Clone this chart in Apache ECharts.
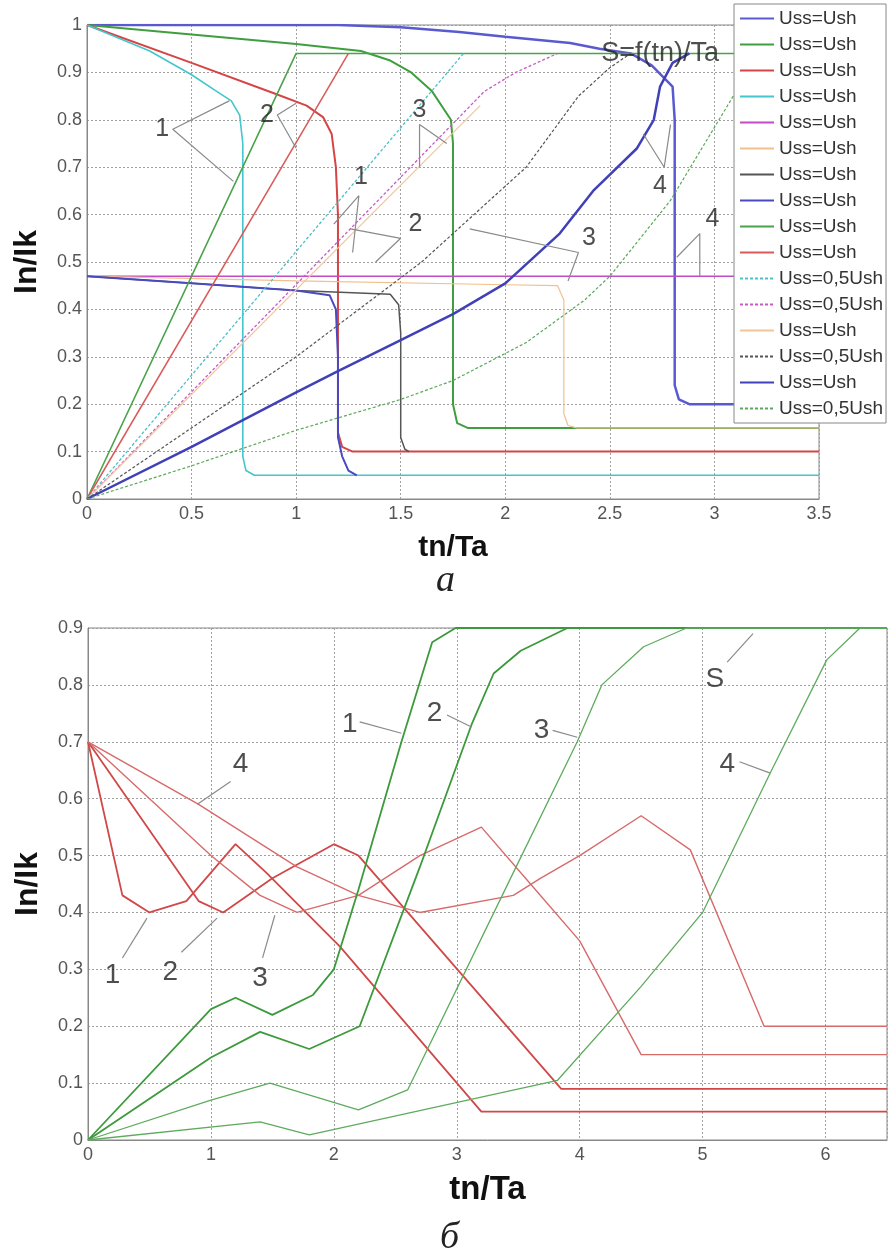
<!DOCTYPE html>
<html>
<head>
<meta charset="utf-8">
<script src="https://cdn.jsdelivr.net/npm/echarts@6/dist/echarts.min.js"></script>
<style>
html, body { margin: 0; padding: 0; background: #fff; }
#chart { width: 890px; height: 1254px; }
</style>
</head>
<body>
<div id="chart"></div>
<script>
// ---- panel a: currents (start at 1 and at 0.47) ----
var curBlueHi = [[0,1],[1.2,1],[1.5,0.995],[1.78,0.985],[2.0,0.975],[2.31,0.962],[2.45,0.95],[2.6,0.94],[2.7,0.915],[2.8,0.87],[2.81,0.8],[2.81,0.24],[2.83,0.21],[2.88,0.2],[3.5,0.2]];
var curGreenHi = [[0,1],[0.5,0.98],[1.0,0.96],[1.31,0.945],[1.45,0.925],[1.55,0.9],[1.65,0.86],[1.74,0.8],[1.75,0.75],[1.75,0.2],[1.77,0.16],[1.82,0.15],[3.5,0.15]];
var curRedHi = [[0,1],[0.5,0.92],[0.9,0.855],[1.05,0.83],[1.13,0.805],[1.17,0.77],[1.19,0.7],[1.2,0.6],[1.2,0.14],[1.22,0.11],[1.27,0.1],[3.5,0.1]];
var curCyanHi = [[0,1],[0.3,0.945],[0.5,0.895],[0.62,0.86],[0.69,0.84],[0.73,0.81],[0.745,0.75],[0.745,0.09],[0.76,0.06],[0.8,0.05],[3.5,0.05]];
var curMagentaLo = [[0,0.47],[3.5,0.47]];
var curPeachLo = [[0,0.47],[1.0,0.46],[2.0,0.452],[2.25,0.45],[2.28,0.42],[2.28,0.18],[2.3,0.155],[2.34,0.15],[3.5,0.15]];
var curGrayLo = [[0,0.47],[0.5,0.455],[1.0,0.44],[1.45,0.432],[1.49,0.41],[1.5,0.35],[1.5,0.13],[1.52,0.105],[1.54,0.1]];
var curBlueLo = [[0,0.47],[0.5,0.455],[1.0,0.44],[1.16,0.43],[1.19,0.4],[1.2,0.3],[1.2,0.13],[1.22,0.09],[1.25,0.06],[1.29,0.05]];
// ---- panel a: S = f(tn)/Ta, rising from 0 ----
var sGreen = [[0,0],[1.0,0.94],[3.5,0.94]];
var sRed = [[0,0],[1.25,0.94]];
var sCyanD = [[0,0],[1.8,0.94]];
var sMagentaD = [[0,0],[1.9,0.86],[2.05,0.9],[2.25,0.94]];
var sPeach = [[0,0],[1.88,0.83]];
var sGrayD = [[0,0],[1.0,0.3],[1.6,0.5],[2.1,0.7],[2.35,0.85],[2.5,0.91],[2.6,0.94]];
var sBlue = [[0,0],[0.5,0.11],[1.0,0.225],[1.2,0.27],[1.5,0.335],[1.75,0.39],[2.0,0.455],[2.26,0.56],[2.42,0.65],[2.63,0.74],[2.71,0.8],[2.74,0.87],[2.8,0.92],[2.88,0.94]];
var sGreenD = [[0,0],[0.5,0.07],[1.0,0.145],[1.5,0.21],[1.75,0.25],[2.1,0.33],[2.38,0.42],[2.5,0.47],[2.79,0.63],[3.09,0.85],[3.3,0.94]];

var legendLabels = ['Uss=Ush','Uss=Ush','Uss=Ush','Uss=Ush','Uss=Ush','Uss=Ush','Uss=Ush','Uss=Ush','Uss=Ush','Uss=Ush',
  'Uss=0,5Ush','Uss=0,5Ush','Uss=Ush','Uss=0,5Ush','Uss=Ush','Uss=0,5Ush'];

// annotation text and leader lines, panel a (data coords)
var topNotes = [[0.36,0.78,'1'],[0.86,0.81,'2'],[1.59,0.82,'3'],[1.31,0.68,'1'],[1.57,0.58,'2'],[2.40,0.55,'3'],[2.74,0.66,'4'],[2.99,0.59,'4']];
var topLeaders = [
  [[0.68,0.84],[0.41,0.78],[0.70,0.67]],
  [[1.0,0.835],[0.91,0.81],[1.0,0.74]],
  [[1.72,0.75],[1.59,0.79],[1.59,0.70]],
  [[1.18,0.58],[1.3,0.64],[1.27,0.52]],
  [[1.26,0.57],[1.5,0.55],[1.38,0.5]],
  [[1.83,0.57],[2.35,0.52],[2.3,0.46]],
  [[2.66,0.77],[2.76,0.7],[2.79,0.79]],
  [[2.82,0.51],[2.93,0.56],[2.93,0.47]]
];
var topSLabel = [[2.74,0.94,'S=f(tn)/Ta']];

// ---- panel б ----
var red1 = [[0,0.7],[0.28,0.43],[0.5,0.4],[0.8,0.42],[1.2,0.52],[1.45,0.47],[2.05,0.34],[3.2,0.05],[6.5,0.05]];
var red2 = [[0,0.7],[0.9,0.42],[1.1,0.4],[1.5,0.46],[2.0,0.52],[2.2,0.5],[3.85,0.09],[6.5,0.09]];
var red3 = [[0,0.7],[1.0,0.5],[1.4,0.43],[1.7,0.4],[2.2,0.43],[2.7,0.5],[3.2,0.55],[3.6,0.45],[4.0,0.35],[4.5,0.15],[6.5,0.15]];
var red4 = [[0,0.7],[0.9,0.59],[1.7,0.48],[2.2,0.43],[2.7,0.4],[3.46,0.43],[3.68,0.46],[4.0,0.5],[4.5,0.57],[4.9,0.51],[5.5,0.2],[6.5,0.2]];
var green1 = [[0,0],[1.0,0.23],[1.2,0.25],[1.5,0.22],[1.83,0.255],[2.0,0.3],[2.2,0.44],[2.55,0.7],[2.8,0.875],[2.99,0.9],[6.5,0.9]];
var green2 = [[0,0],[1.0,0.145],[1.4,0.19],[1.8,0.16],[2.21,0.2],[2.7,0.48],[3.12,0.73],[3.3,0.82],[3.52,0.86],[3.9,0.9],[6.5,0.9]];
var green3 = [[0,0],[1.0,0.07],[1.48,0.1],[2.2,0.053],[2.6,0.088],[3.46,0.47],[3.98,0.7],[4.18,0.8],[4.52,0.867],[4.87,0.9],[6.5,0.9]];
var green4 = [[0,0],[1.4,0.032],[1.8,0.009],[3.82,0.105],[4.5,0.27],[5.0,0.4],[5.55,0.645],[6.01,0.844],[6.28,0.9],[6.5,0.9]];

var botNotes = [[2.13,0.73,'1'],[2.82,0.75,'2'],[3.69,0.72,'3'],[5.1,0.81,'S'],[5.2,0.66,'4'],[1.24,0.66,'4'],[0.2,0.29,'1'],[0.67,0.295,'2'],[1.4,0.285,'3']];
var botLeaders = [
  [[2.21,0.735],[2.55,0.715]],
  [[2.92,0.747],[3.12,0.726]],
  [[3.78,0.72],[3.98,0.708]],
  [[5.2,0.84],[5.41,0.89]],
  [[5.3,0.665],[5.55,0.645]],
  [[1.16,0.63],[0.89,0.59]],
  [[0.28,0.32],[0.48,0.39]],
  [[0.76,0.33],[1.05,0.39]],
  [[1.42,0.32],[1.52,0.395]]
];

var chart = echarts.init(document.getElementById('chart'));

var topDefs = [
  {d: curBlueHi, c: '#5a5ad0', w: 2.5},
  {d: curGreenHi, c: '#3f9f3f', w: 2},
  {d: curRedHi, c: '#d64545', w: 2},
  {d: curCyanHi, c: '#45c5cc', w: 1.6},
  {d: curMagentaLo, c: '#c04cc8', w: 1.6},
  {d: curPeachLo, c: '#f2c08c', w: 1.2},
  {d: curGrayLo, c: '#555555', w: 1.5},
  {d: curBlueLo, c: '#4a4ac0', w: 2},
  {d: sGreen, c: '#4aa34a', w: 1.6},
  {d: sRed, c: '#d85a5a', w: 1.5},
  {d: sCyanD, c: '#4cc0c8', w: 1.3, dash: true},
  {d: sMagentaD, c: '#c85ac8', w: 1.3, dash: true},
  {d: sPeach, c: '#f2c698', w: 1.2},
  {d: sGrayD, c: '#555555', w: 1.2, dash: true},
  {d: sBlue, c: '#4040b8', w: 2.5},
  {d: sGreenD, c: '#5aa85a', w: 1.2, dash: true}
];
var botDefs = [
  {d: red1, c: '#d04848', w: 1.8},
  {d: red2, c: '#d04848', w: 1.8},
  {d: red3, c: '#d86a6a', w: 1.4},
  {d: red4, c: '#d86a6a', w: 1.4},
  {d: green1, c: '#3c9a3c', w: 1.8},
  {d: green2, c: '#3c9a3c', w: 1.8},
  {d: green3, c: '#5eab5e', w: 1.3},
  {d: green4, c: '#5eab5e', w: 1.3}
];

var series = [];
var legendNames = [];
topDefs.forEach(function (s, i) {
  var name = 'L' + i;
  legendNames.push(name);
  series.push({
    type: 'line', name: name, xAxisIndex: 0, yAxisIndex: 0,
    data: s.d, showSymbol: false, symbol: 'none', silent: true,
    lineStyle: { color: s.c, width: s.w, type: s.dash ? [3, 2] : 'solid' },
    itemStyle: { color: s.c }
  });
});
botDefs.forEach(function (s) {
  series.push({
    type: 'line', xAxisIndex: 1, yAxisIndex: 1,
    data: s.d, showSymbol: false, symbol: 'none', silent: true,
    lineStyle: { color: s.c, width: s.w }
  });
});

function addLeaders(list, idx) {
  list.forEach(function (l) {
    series.push({
      type: 'line', xAxisIndex: idx, yAxisIndex: idx, data: l,
      showSymbol: false, symbol: 'none', silent: true, z: 3,
      lineStyle: { color: '#8a8a8a', width: 1.2 }
    });
  });
}
function addNotes(list, idx, size) {
  series.push({
    type: 'scatter', xAxisIndex: idx, yAxisIndex: idx, data: list,
    symbolSize: 0, silent: true, z: 4,
    label: {
      show: true, position: 'inside', color: '#222',
      fontFamily: 'Liberation Sans', fontSize: size,
      formatter: function (p) { return p.value[2]; }
    }
  });
}
addLeaders(topLeaders, 0);
addLeaders(botLeaders, 1);
addNotes(topNotes, 0, 25);
addNotes(topSLabel, 0, 27);
addNotes(botNotes, 1, 28);

var gridLine = { show: true, lineStyle: { color: '#a0a0a0', type: [2, 2], width: 1 } };
var axisLine = { show: true, lineStyle: { color: '#888', width: 1 } };
var tickLabel = { color: '#555', fontSize: 18, fontFamily: 'Liberation Sans' };

function fmt(v) { return String(+v.toFixed(1)); }

chart.setOption({
  animation: false,
  grid: [
    { left: 87, top: 25, width: 732, height: 474, show: true, borderColor: '#888', borderWidth: 1 },
    { left: 88, top: 628, width: 799, height: 512, show: true, borderColor: '#888', borderWidth: 1 }
  ],
  xAxis: [
    { type: 'value', gridIndex: 0, min: 0, max: 3.5, interval: 0.5,
      axisLine: axisLine, axisTick: { show: false }, splitLine: gridLine,
      axisLabel: Object.assign({ margin: 6, formatter: fmt }, tickLabel),
      name: 'tn/Ta', nameLocation: 'middle', nameGap: 34,
      nameTextStyle: { color: '#111', fontSize: 30, fontWeight: 'bold', fontFamily: 'Liberation Sans' } },
    { type: 'value', gridIndex: 1, min: 0, max: 6.5, interval: 1,
      axisLine: axisLine, axisTick: { show: false }, splitLine: gridLine,
      axisLabel: Object.assign({ margin: 6, showMaxLabel: false }, tickLabel),
      name: 'tn/Ta', nameLocation: 'middle', nameGap: 33,
      nameTextStyle: { color: '#111', fontSize: 33, fontWeight: 'bold', fontFamily: 'Liberation Sans' } }
  ],
  yAxis: [
    { type: 'value', gridIndex: 0, min: 0, max: 1, interval: 0.1,
      axisLine: axisLine, axisTick: { show: false }, splitLine: gridLine,
      axisLabel: Object.assign({ margin: 5, formatter: fmt }, tickLabel),
      name: 'In/Ik', nameLocation: 'middle', nameGap: 44, nameRotate: 90,
      nameTextStyle: { color: '#111', fontSize: 32, fontWeight: 'bold', fontFamily: 'Liberation Sans' } },
    { type: 'value', gridIndex: 1, min: 0, max: 0.9, interval: 0.1,
      axisLine: axisLine, axisTick: { show: false }, splitLine: gridLine,
      axisLabel: Object.assign({ margin: 5, formatter: fmt }, tickLabel),
      name: 'In/Ik', nameLocation: 'middle', nameGap: 44, nameRotate: 90,
      nameTextStyle: { color: '#111', fontSize: 32, fontWeight: 'bold', fontFamily: 'Liberation Sans' } }
  ],
  legend: {
    data: legendNames, orient: 'vertical', left: 734, top: 4,
    backgroundColor: '#fff', borderColor: '#888', borderWidth: 1,
    padding: [5, 3, 5, 5], itemWidth: 34, itemHeight: 14, itemGap: 7, itemTextGap: 4,
    selectedMode: false,
    itemStyle: { opacity: 0 },
    textStyle: { color: '#333', fontSize: 19, fontFamily: 'Liberation Sans' },
    formatter: function (name) { return legendLabels[+name.slice(1)]; }
  },
  graphic: [
    { type: 'text', left: 436, top: 562,
      style: { text: 'а', fontSize: 38, fontStyle: 'italic', fontFamily: 'Liberation Serif', fill: '#222' } },
    { type: 'text', left: 440, top: 1219,
      style: { text: 'б', fontSize: 38, fontStyle: 'italic', fontFamily: 'Liberation Serif', fill: '#222' } }
  ],
  series: series
});
</script>
</body>
</html>
